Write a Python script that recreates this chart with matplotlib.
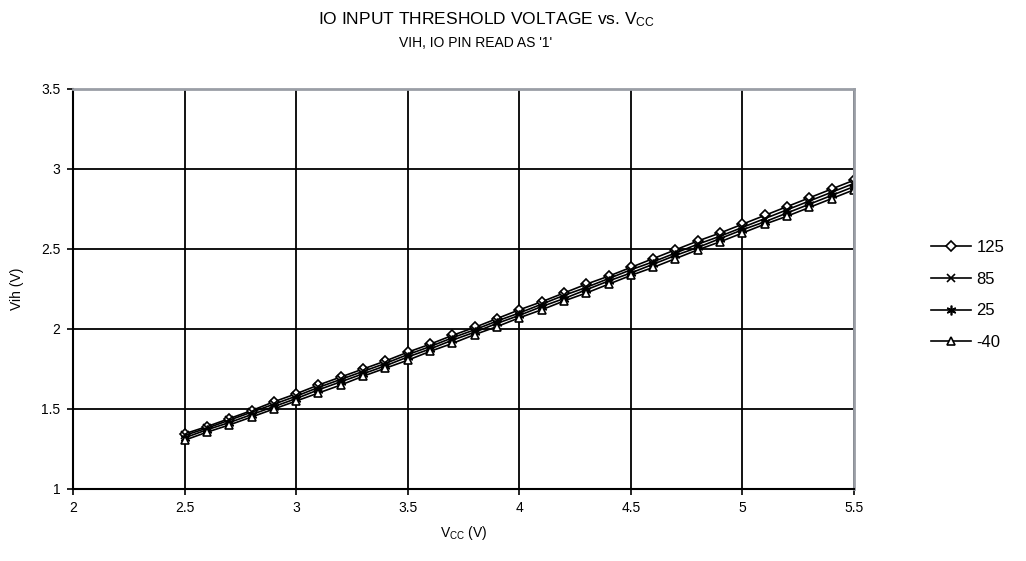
import matplotlib
matplotlib.use("Agg")
import matplotlib.pyplot as plt

plt.rcParams['font.family'] = ['Liberation Sans', 'DejaVu Sans']
plt.rcParams['mathtext.default'] = 'regular'

# supply voltage (V)
vcc = [2.5, 2.6, 2.7, 2.8, 2.9, 3.0, 3.1, 3.2, 3.3, 3.4, 3.5,
       3.6, 3.7, 3.8, 3.9, 4.0, 4.1, 4.2, 4.3, 4.4, 4.5,
       4.6, 4.7, 4.8, 4.9, 5.0, 5.1, 5.2, 5.3, 5.4, 5.5]

# Vih per temperature
vih_125 = [1.345, 1.39, 1.44, 1.49, 1.545, 1.595, 1.65, 1.70, 1.75, 1.80, 1.855,
           1.905, 1.96, 2.01, 2.065, 2.12, 2.17, 2.225, 2.28, 2.33, 2.385,
           2.44, 2.495, 2.55, 2.60, 2.655, 2.71, 2.765, 2.82, 2.875, 2.93]
vih_85 = [1.335, 1.38, 1.43, 1.48, 1.53, 1.58, 1.635, 1.685, 1.735, 1.785, 1.84,
          1.89, 1.945, 1.995, 2.05, 2.10, 2.155, 2.21, 2.26, 2.315, 2.37,
          2.42, 2.475, 2.53, 2.58, 2.635, 2.69, 2.745, 2.80, 2.855, 2.91]
vih_25 = [1.32, 1.37, 1.415, 1.465, 1.515, 1.565, 1.62, 1.67, 1.72, 1.77, 1.825,
          1.875, 1.93, 1.98, 2.035, 2.085, 2.14, 2.19, 2.245, 2.30, 2.35,
          2.405, 2.46, 2.51, 2.565, 2.62, 2.67, 2.725, 2.78, 2.835, 2.89]
vih_m40 = [1.305, 1.355, 1.40, 1.45, 1.50, 1.55, 1.60, 1.65, 1.705, 1.755, 1.805,
           1.86, 1.91, 1.965, 2.015, 2.07, 2.12, 2.175, 2.225, 2.28, 2.335,
           2.385, 2.44, 2.495, 2.545, 2.60, 2.655, 2.705, 2.76, 2.815, 2.87]

labels = ['125', '85', '25', '-40']
markers = ['D', 'x', (6, 2, 0), '^']
msizes = [5, 5.5, 7, 6]

fig = plt.figure(figsize=(10.26, 5.61), dpi=100)
ax = fig.add_axes([73 / 1026, 1 - 489 / 561, 781 / 1026, 400 / 561])

for ys, lab, m, ms in zip([vih_125, vih_85, vih_25, vih_m40], labels, markers, msizes):
    ax.plot(vcc, ys, color='black', lw=1.2, marker=m, markersize=ms,
            markerfacecolor='white', markeredgecolor='black', markeredgewidth=1.2,
            label=lab)

ax.set_xlim(2, 5.5)
ax.set_ylim(1, 3.5)
ax.set_xticks([2, 2.5, 3, 3.5, 4, 4.5, 5, 5.5])
ax.set_xticklabels(['2', '2.5', '3', '3.5', '4', '4.5', '5', '5.5'])
ax.set_yticks([1, 1.5, 2, 2.5, 3, 3.5])
ax.set_yticklabels(['1', '1.5', '2', '2.5', '3', '3.5'])
ax.grid(True, color='black', lw=1.3)
ax.set_axisbelow(True)
ax.tick_params(direction='out', length=4, width=1.2, labelsize=10, colors='black', pad=5)

for s in ['left', 'bottom']:
    ax.spines[s].set_color('black')
    ax.spines[s].set_linewidth(1.5)
for s in ['top', 'right']:
    ax.spines[s].set_color('#9a9ea6')
    ax.spines[s].set_linewidth(2)

ax.set_xlabel('V$_{CC}$ (V)', fontsize=10, labelpad=6)
ax.set_ylabel('Vih (V)', fontsize=10, labelpad=12)

fig.text(486 / 1026, 1 - 20 / 561, 'IO INPUT THRESHOLD VOLTAGE vs. V$_{CC}$',
         ha='center', va='center', fontsize=12.5)
fig.text(476 / 1026, 1 - 43 / 561, "VIH, IO PIN READ AS '1'",
         ha='center', va='center', fontsize=10)

ax.legend(loc='center left', bbox_to_anchor=(1.08, 0.485), frameon=False,
          fontsize=12, handlelength=2.4, labelspacing=1.0, handletextpad=0.3)

fig.savefig('out.png', dpi=100)
